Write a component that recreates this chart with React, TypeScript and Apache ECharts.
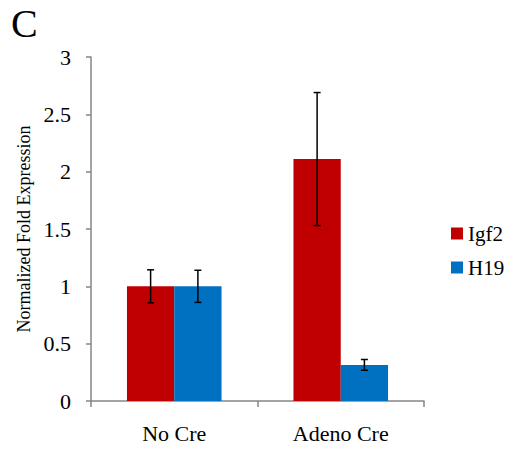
import React, { useEffect, useRef } from "react";
import * as echarts from "echarts";

const categories = ["No Cre", "Adeno Cre"];
const seriesNames = ["Igf2", "H19"];
const igf2Values = [1, 2.11];
const h19Values = [1, 0.315];
const igf2Errors = [0.144, 0.58];
const h19Errors = [0.14, 0.047];
const yTicks = { min: 0, max: 3, interval: 0.5 };

const RED = "#C00000";
const BLUE = "#0070C0";
const FONT = "Liberation Serif";
const BAR_FRAC = 0.284;

export default function App() {
  const ref = useRef<HTMLDivElement>(null);
  useEffect(() => {
    if (!ref.current) return;
    const chart = echarts.init(ref.current, undefined, { renderer: "svg" });
    const errData: number[][] = [];
    igf2Values.forEach((v, i) => errData.push([i, v - igf2Errors[i], v + igf2Errors[i], 0]));
    h19Values.forEach((v, i) => errData.push([i, v - h19Errors[i], v + h19Errors[i], 1]));
    chart.setOption({
      animation: false,
      textStyle: { fontFamily: FONT },
      graphic: [
        {
          type: "text",
          left: 11,
          top: 3,
          style: { text: "C", fontFamily: FONT, fontSize: 40, fill: "#000" },
        },
      ],
      grid: { left: 91, right: 89, top: 57, bottom: 48, containLabel: false },
      legend: {
        orient: "vertical",
        left: 446,
        top: 218,
        itemWidth: 12,
        itemHeight: 12,
        itemGap: 13,
        icon: "rect",
        data: seriesNames,
        textStyle: { fontFamily: FONT, fontSize: 21, color: "#000" },
      },
      xAxis: {
        type: "category",
        data: categories,
        axisLine: { lineStyle: { color: "#868686", width: 1.5 } },
        axisTick: { show: true, length: 6, lineStyle: { color: "#868686", width: 1.5 } },
        axisLabel: { fontFamily: FONT, fontSize: 22, color: "#000", margin: 21 },
      },
      yAxis: {
        type: "value",
        min: yTicks.min,
        max: yTicks.max,
        interval: yTicks.interval,
        name: "Normalized Fold Expression",
        nameLocation: "middle",
        nameRotate: 90,
        nameGap: 57,
        nameTextStyle: { fontFamily: FONT, fontSize: 18, color: "#000" },
        splitLine: { show: false },
        axisLine: { show: true, lineStyle: { color: "#868686", width: 1.5 } },
        axisTick: { show: true, length: 5, lineStyle: { color: "#868686", width: 1.5 } },
        axisLabel: { fontFamily: FONT, fontSize: 22, color: "#000", margin: 20 },
      },
      series: [
        {
          name: seriesNames[0],
          type: "bar",
          data: igf2Values,
          barWidth: `${BAR_FRAC * 100}%`,
          barGap: "0%",
          itemStyle: { color: RED },
        },
        {
          name: seriesNames[1],
          type: "bar",
          data: h19Values,
          barWidth: `${BAR_FRAC * 100}%`,
          barGap: "0%",
          itemStyle: { color: BLUE },
        },
        {
          type: "custom",
          data: errData,
          z: 10,
          encode: { x: 0, y: [1, 2] },
          renderItem: (params: any, api: any) => {
            const cat = api.value(0);
            const lo = api.value(1);
            const hi = api.value(2);
            const s = api.value(3);
            const bw = api.size([1, 0])[0] * BAR_FRAC;
            const off = (s === 0 ? -0.5 : 0.5) * bw;
            const pHi = api.coord([cat, hi]);
            const pLo = api.coord([cat, lo]);
            const x = pHi[0] + off;
            const cap = 3.5;
            const style = { stroke: "#000", lineWidth: 1.5 };
            return {
              type: "group",
              children: [
                { type: "line", shape: { x1: x, y1: pHi[1], x2: x, y2: pLo[1] }, style },
                { type: "line", shape: { x1: x - cap, y1: pHi[1], x2: x + cap, y2: pHi[1] }, style },
                { type: "line", shape: { x1: x - cap, y1: pLo[1], x2: x + cap, y2: pLo[1] }, style },
              ],
            };
          },
        },
      ],
    });
    return () => chart.dispose();
  }, []);
  return (
    <div
      ref={ref}
      style={{ position: "absolute", left: 0, top: 0, width: 513, height: 449 }}
    />
  );
}
